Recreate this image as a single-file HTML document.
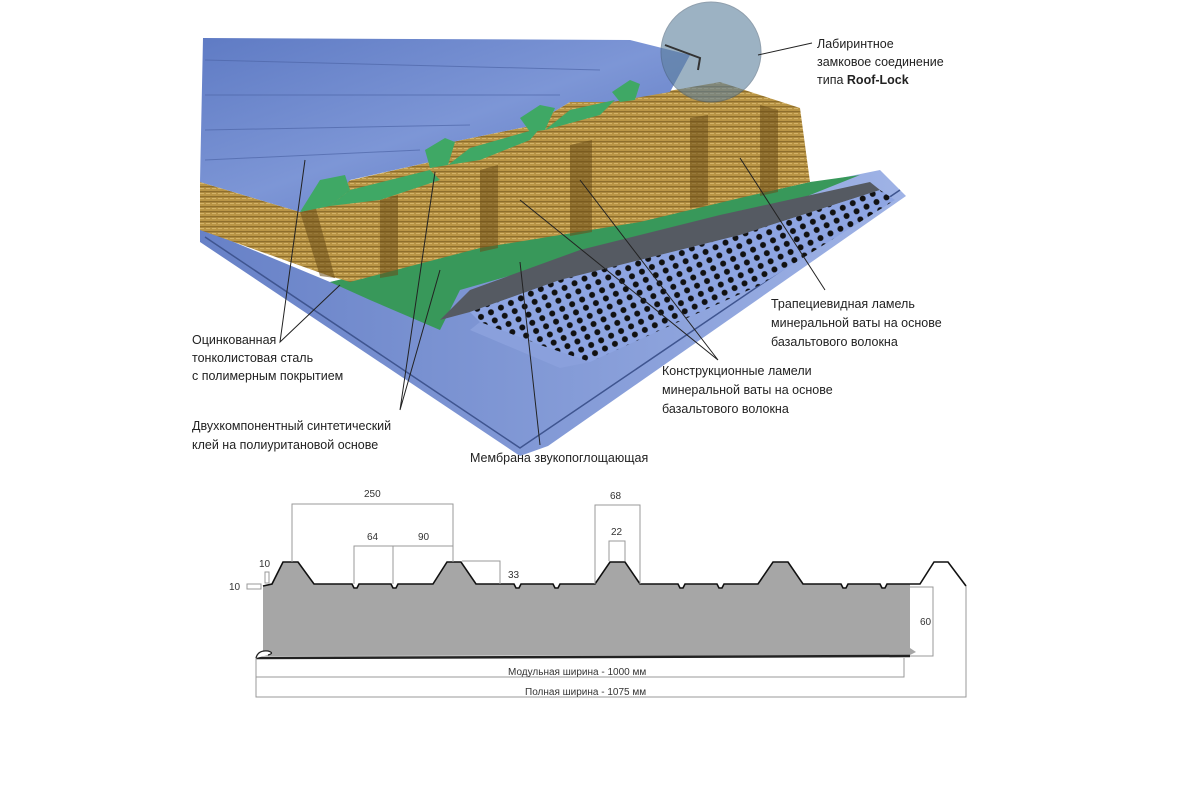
<!DOCTYPE html>
<html><head><meta charset="utf-8"><style>
html,body{margin:0;padding:0;background:#fff;}
svg{display:block;font-family:"Liberation Sans","DejaVu Sans",sans-serif;}
.t{font-size:12.5px;fill:#222;}
.d{font-size:10px;fill:#333;}
.l{stroke:#222;stroke-width:1;fill:none;}
.dm{stroke:#999;stroke-width:1;fill:none;}
</style></head><body>
<svg width="1200" height="800" viewBox="0 0 1200 800" xmlns="http://www.w3.org/2000/svg">
<defs>
<linearGradient id="bl" x1="0" y1="0" x2="1" y2="1">
<stop offset="0" stop-color="#5f7bc4"/><stop offset="0.5" stop-color="#7d96d6"/><stop offset="1" stop-color="#5873bd"/></linearGradient>
<linearGradient id="bl2" x1="0" y1="0" x2="1" y2="0">
<stop offset="0" stop-color="#6781c7"/><stop offset="1" stop-color="#9fb3e6"/></linearGradient>
<pattern id="wool" width="6" height="5" patternUnits="userSpaceOnUse">
<rect width="6" height="5" fill="#b99546"/><rect y="1" width="6" height="1.3" fill="#8e6e2c"/><rect x="2" y="3" width="4" height="1" fill="#d4b368"/></pattern>
<pattern id="holes" width="11" height="9" patternUnits="userSpaceOnUse" patternTransform="rotate(-25)">
<rect width="11" height="9" fill="#8ea5e2"/><circle cx="5" cy="4.5" r="3" fill="#111"/></pattern>
</defs>
<!-- lower steel sheet -->
<polygon points="200,228 200,242 520,456 548,446 906,196 880,170 330,282" fill="url(#bl2)"/>
<polyline points="205,237 520,448 900,190" stroke="#3f5590" stroke-width="1.5" fill="none"/>
<!-- green adhesive bottom -->
<polygon points="330,282 480,246 640,220 810,182 860,175 760,215 600,250 460,290 440,330 370,300" fill="#38985a"/>
<!-- membrane dark band -->
<polygon points="440,320 470,290 580,250 720,215 870,182 880,190 740,235 560,280 470,312" fill="#555a62"/>
<!-- perforated -->
<polygon points="470,312 560,280 740,235 880,190 895,200 760,285 590,362 540,345 480,322" fill="url(#holes)"/>
<polygon points="480,322 540,345 590,362 560,368 470,330" fill="#8aa0dc"/>
<!-- left wool strip -->
<polygon points="200,182 300,212 335,278 200,230" fill="url(#wool)"/>
<!-- wool block -->
<polygon points="300,212 330,185 430,162 452,142 530,126 570,102 640,96 720,82 800,108 810,182 740,198 640,222 480,248 350,282 330,276" fill="url(#wool)"/>
<g fill="#6a4d18" opacity="0.55">
<polygon points="300,212 315,205 335,278 320,276"/>
<polygon points="380,200 398,195 398,275 380,278"/><polygon points="480,170 498,165 498,248 480,252"/>
<polygon points="570,145 592,140 592,232 570,236"/><polygon points="690,118 708,115 708,205 690,208"/>
<polygon points="760,105 778,110 778,192 760,196"/></g>
<!-- top steel sheet -->
<polygon points="203,38 630,40 690,55 670,92 612,102 570,102 530,126 452,142 430,162 350,180 330,205 300,212 200,182" fill="url(#bl)"/>
<g stroke="#4e66a8" stroke-width="1" opacity="0.7">
<line x1="205" y1="60" x2="600" y2="70"/><line x1="205" y1="95" x2="560" y2="95"/><line x1="205" y1="130" x2="470" y2="125"/><line x1="205" y1="160" x2="420" y2="150"/></g>
<!-- green ribs -->
<g fill="#3fa865">
<polygon points="300,212 320,180 345,175 350,190 330,206"/>
<polygon points="330,206 350,190 430,170 440,180 380,200"/>
<polygon points="425,150 445,138 455,142 448,165 430,168"/>
<polygon points="448,165 470,148 540,128 530,140 480,160"/>
<polygon points="520,118 540,105 555,108 545,130 530,132"/>
<polygon points="545,130 570,110 615,100 600,115"/>
<polygon points="612,92 630,80 640,84 635,100 620,102"/>
</g>
<!-- lock circle -->
<circle cx="711" cy="52" r="50" fill="#5c7f9c" opacity="0.6" stroke="#48627a" stroke-width="1"/>
<polyline points="665,45 700,58 698,70" stroke="#333" stroke-width="2" fill="none"/>
<!-- leaders -->
<line class="l" x1="758" y1="55" x2="812" y2="43"/>
<polyline class="l" points="305,160 280,342 340,285"/>
<polyline class="l" points="435,172 400,410 440,270"/>
<line class="l" x1="520" y1="262" x2="540" y2="445"/>
<polyline class="l" points="580,180 718,360 520,200"/>
<line class="l" x1="740" y1="158" x2="825" y2="290"/>
<!-- labels -->
<text class="t" x="817" y="48">Лабиринтное</text>
<text class="t" x="817" y="66">замковое соединение</text>
<text class="t" x="817" y="84">типа <tspan font-weight="bold">Roof-Lock</tspan></text>
<text class="t" x="771" y="308">Трапециевидная ламель</text>
<text class="t" x="771" y="327">минеральной ваты на основе</text>
<text class="t" x="771" y="346">базальтового волокна</text>
<text class="t" x="192" y="344">Оцинкованная</text>
<text class="t" x="192" y="362">тонколистовая сталь</text>
<text class="t" x="192" y="380">с полимерным покрытием</text>
<text class="t" x="662" y="375">Конструкционные ламели</text>
<text class="t" x="662" y="394">минеральной ваты на основе</text>
<text class="t" x="662" y="413">базальтового волокна</text>
<text class="t" x="192" y="430">Двухкомпонентный синтетический</text>
<text class="t" x="192" y="449">клей на полиуритановой основе</text>
<text class="t" x="470" y="462">Мембрана звукопоглощающая</text>
<!-- profile -->
<path d="M263,586 L272,584 L283,562 L298,562 L314,584 L352,584 L354,588 L357,588 L359,584 L391,584 L393,588 L396,588 L398,584 L433,584 L447,562 L461,562 L476,584 L514,584 L516,588 L519,588 L521,584 L553,584 L555,588 L558,588 L560,584 L595,584 L610,562 L625,562 L640,584 L678,584 L680,588 L683,588 L685,584 L717,584 L719,588 L722,588 L724,584 L758,584 L773,562 L788,562 L803,584 L841,584 L843,588 L846,588 L848,584 L880,584 L882,588 L885,588 L887,584 L910,584 L910,648 L916,652 L910,655 L263,656 Z" fill="#a6a6a6"/>
<path d="M263,586 L272,584 L283,562 L298,562 L314,584 L352,584 L354,588 L357,588 L359,584 L391,584 L393,588 L396,588 L398,584 L433,584 L447,562 L461,562 L476,584 L514,584 L516,588 L519,588 L521,584 L553,584 L555,588 L558,588 L560,584 L595,584 L610,562 L625,562 L640,584 L678,584 L680,588 L683,588 L685,584 L717,584 L719,588 L722,588 L724,584 L758,584 L773,562 L788,562 L803,584 L841,584 L843,588 L846,588 L848,584 L880,584 L882,588 L885,588 L887,584 L920,584 L934,562 L948,562 L966,586" stroke="#111" stroke-width="1.6" fill="none"/>
<path d="M256,658 L910,656" stroke="#222" stroke-width="2.5"/>
<path d="M256,658 Q258,650 268,651 Q275,653 268,655" stroke="#222" stroke-width="1.3" fill="#fff"/>
<!-- dims -->
<polyline class="dm" points="292,562 292,504 453,504 453,562"/>
<polyline class="dm" points="354,584 354,546 453,546"/>
<line class="dm" x1="393" y1="546" x2="393" y2="584"/>
<polyline class="dm" points="462,561 500,561 500,584"/>
<polyline class="dm" points="595,584 595,505 640,505 640,584"/>
<polyline class="dm" points="609,561 609,541 625,541 625,561"/>
<polyline class="dm" points="910,587 933,587 933,656 910,656"/>
<polyline class="dm" points="256,658 256,697 966,697 966,586"/>
<polyline class="dm" points="256,677 904,677 904,658"/>
<rect x="265" y="572" width="4" height="11" class="dm"/>
<rect x="247" y="584" width="14" height="5" class="dm"/>
<text class="d" x="364" y="497" font-size="11">250</text>
<text class="d" x="367" y="540" font-size="11">64</text>
<text class="d" x="418" y="540" font-size="11">90</text>
<text class="d" x="508" y="578" font-size="11">33</text>
<text class="d" x="610" y="499" font-size="11">68</text>
<text class="d" x="611" y="535" font-size="11">22</text>
<text class="d" x="259" y="567">10</text>
<text class="d" x="229" y="590">10</text>
<text class="d" x="920" y="625" font-size="11">60</text>
<text class="d" x="508" y="675" font-size="9">Модульная ширина - 1000 мм</text>
<text class="d" x="525" y="695" font-size="9">Полная ширина - 1075 мм</text>
</svg>
</body></html>
